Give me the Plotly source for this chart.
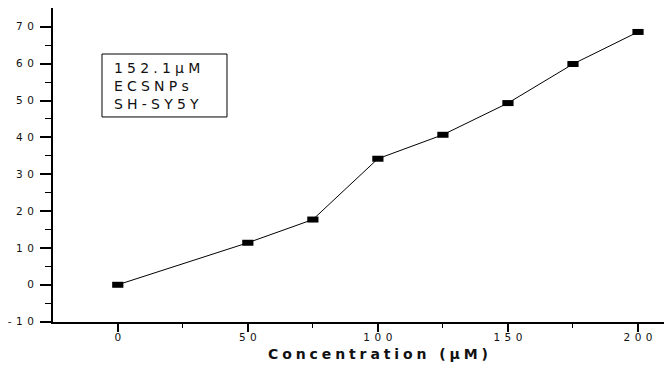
import plotly.graph_objects as go

conc = [0, 50, 75, 100, 125, 150, 175, 200]
inhibition = [0, 11.4, 17.7, 34.2, 40.7, 49.3, 59.9, 68.6]
x_ticks = [0, 50, 100, 150, 200]
y_ticks = [-10, 0, 10, 20, 30, 40, 50, 60, 70]
label_lines = ["152.1μM", "ECSNPs", "SH-SY5Y"]
x_title = "Concentration (μM)"


def spaced(t, px):
    t = str(t)
    return f'<span style="letter-spacing:{px}px">{t[:-1]}</span>{t[-1]}'


font_tick = dict(family="DejaVu Sans", size=10.5, color="#111")
fig = go.Figure()
fig.add_trace(go.Scatter(
    x=conc, y=inhibition, mode="lines+markers",
    line=dict(color="black", width=1),
    marker=dict(symbol="line-ew", size=8, line=dict(width=6, color="black"), color="black"),
    showlegend=False,
))

fig.update_xaxes(
    range=[-24.9, 212.3], tickvals=x_ticks, ticktext=[spaced(v, 4.5) for v in x_ticks],
    ticks="outside", ticklen=8, tickwidth=2,
    showline=True, linecolor="black", linewidth=2, showgrid=False, zeroline=False,
    minor=dict(tickvals=[25, 75, 125, 175], ticks="outside", ticklen=4, tickwidth=1, tickcolor="black"),
    tickfont=font_tick, tickcolor="black", automargin=False, ticklabelstandoff=-4,
)
fig.update_yaxes(
    range=[-10.1, 75.1], tickvals=y_ticks, ticktext=[spaced(v, 4.5) for v in y_ticks],
    ticks="outside", ticklen=11, tickwidth=1.5,
    showline=True, linecolor="black", linewidth=2, showgrid=False, zeroline=False,
    minor=dict(tickvals=[-5, 5, 15, 25, 35, 45, 55, 65], ticks="outside", ticklen=6, tickwidth=1, tickcolor="black"),
    tickfont=font_tick, tickcolor="black", automargin=False, ticklabelstandoff=4,
)
fig.add_annotation(
    xref="paper", yref="paper", x=0.527, y=-0.102, xanchor="center", yanchor="middle",
    text="<b>" + spaced(x_title, 3.9) + "</b>", showarrow=False,
    font=dict(family="DejaVu Sans", size=14, color="#111"),
)
fig.add_shape(type="rect", xref="paper", yref="paper", x0=0.0794, x1=0.282, y0=0.653, y1=0.8535,
              line=dict(color="black", width=1), fillcolor="white", layer="below")
fig.add_annotation(
    xref="paper", yref="paper", x=0.0956, y=0.753, xanchor="left", yanchor="middle",
    text="<br>".join(spaced(t, 4.2) for t in label_lines), showarrow=False, align="left",
    font=dict(family="DejaVu Sans", size=14, color="#111"),
)
fig.update_layout(
    width=664, height=364, margin=dict(l=45, r=2, t=0, b=50),
    plot_bgcolor="white", paper_bgcolor="white",
)
fig.write_html("out.html")
